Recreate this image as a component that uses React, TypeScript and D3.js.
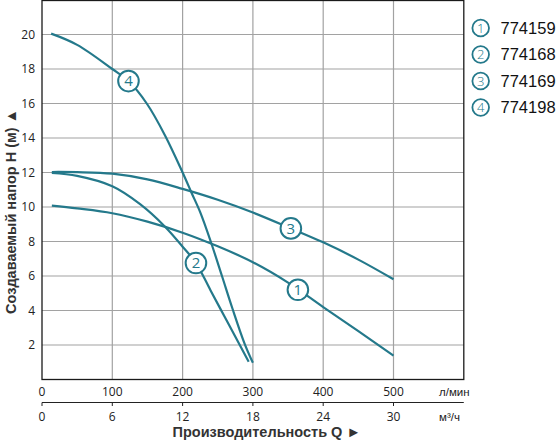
import React from "react";
import * as d3 from "d3";

// ---- data ----
const seriesNames = ["774159", "774168", "774169", "774198"];
const series1Q = [14, 50, 100, 150, 200, 250, 300, 350, 400, 450, 500];
const series1H = [10.08, 9.92, 9.64, 9.15, 8.51, 7.72, 6.8, 5.62, 4.2, 2.8, 1.38];
const series2Q = [14, 50, 100, 140, 175, 200, 219, 240, 260, 280, 294];
const series2H = [11.97, 11.8, 11.2, 10.15, 8.86, 7.7, 6.75, 5.15, 3.62, 2.1, 1.03];
const series3Q = [14, 50, 100, 150, 200, 250, 300, 354, 400, 450, 500];
const series3H = [12.03, 12.02, 11.93, 11.6, 11.05, 10.42, 9.68, 8.76, 7.95, 6.95, 5.81];
const series4Q = [13, 50, 100, 123, 149, 175, 200, 213, 225, 240, 256, 271, 288, 300];
const series4H = [20.05, 19.4, 18.0, 17.3, 16.0, 14.15, 12.0, 10.8, 9.7, 8.0, 6.0, 4.1, 2.1, 0.97];
const labelQ = [364, 219, 354, 123];
const labelH = [5.2, 6.75, 8.76, 17.3];
const yTicks = [2, 4, 6, 8, 10, 12, 14, 16, 18, 20];
const xTicksLmin = [0, 100, 200, 300, 400, 500];
const xTicksM3h = [0, 6, 12, 18, 24, 30];

const TEAL = "#24798b";
const GRID = "#a2a2a2";

export default function App() {
  const W = 558, H = 440;
  const left = 42, right = 463.8, top = 0.5, bottom = 379.5;
  const x = d3.scaleLinear().domain([0, 600]).range([left, right]);
  const x2 = d3.scaleLinear().domain([0, 36]).range([left, right]);
  const y = d3.scaleLinear().domain([0, 22]).range([bottom, 0]);

  const all = [
    [series1Q, series1H],
    [series2Q, series2H],
    [series3Q, series3H],
    [series4Q, series4H],
  ];
  const line = d3
    .line<[number, number]>()
    .x((d) => x(d[0]))
    .y((d) => y(d[1]))
    .curve(d3.curveCatmullRom.alpha(0.5));

  const tickFont = "'Open Sans', 'DejaVu Sans', sans-serif";
  const titleFont = "'Liberation Sans', Arial, sans-serif";

  return (
    <svg
      width={W}
      height={H}
      viewBox={`0 0 ${W} ${H}`}
      style={{ position: "absolute", left: 0, top: 0, background: "#fff" }}
    >
      {/* grid */}
      {yTicks.map((t) => (
        <line key={"gy" + t} x1={left} x2={right} y1={y(t)} y2={y(t)} stroke={GRID} strokeWidth={1.2} />
      ))}
      {xTicksLmin.slice(1).map((t) => (
        <line key={"gx" + t} x1={x(t)} x2={x(t)} y1={top} y2={bottom} stroke={GRID} strokeWidth={1.2} />
      ))}
      {/* frame */}
      <rect x={left} y={top} width={right - left} height={bottom - top} fill="none" stroke="#1a1a1a" strokeWidth={1.3} />

      {/* y tick labels */}
      {yTicks.map((t) => (
        <text
          key={"ty" + t}
          x={35}
          y={y(t)}
          dy="0.36em"
          textAnchor="end"
          fontFamily={tickFont}
          fontSize={12}
          fill="#222"
        >
          {t}
        </text>
      ))}

      {/* x tick labels l/min */}
      {xTicksLmin.map((t) => (
        <text key={"tx" + t} x={x(t)} y={396} textAnchor="middle" fontFamily={tickFont} fontSize={12} fill="#222">
          {t}
        </text>
      ))}
      <text x={439} y={396} fontFamily={titleFont} fontSize={11.5} fill="#222">
        л/мин
      </text>

      {/* second axis m3/h */}
      <line x1={left} x2={right} y1={402.5} y2={402.5} stroke="#222" strokeWidth={1} />
      {xTicksM3h.map((t) => (
        <g key={"t2" + t}>
          <line x1={x2(t)} x2={x2(t)} y1={402.5} y2={406} stroke="#222" strokeWidth={1} />
          <text x={x2(t)} y={421} textAnchor="middle" fontFamily={tickFont} fontSize={12} fill="#222">
            {t}
          </text>
        </g>
      ))}
      <text x={439} y={421} fontFamily={titleFont} fontSize={11.5} fill="#222">
        м³/ч
      </text>

      {/* axis titles */}
      <text x={172.5} y={436.5} fontFamily={titleFont} fontSize={14.5} fontWeight="bold" fill="#333">
        Производительность Q ►
      </text>
      <text
        transform={`translate(15.5, 211.5) rotate(-90)`}
        textAnchor="middle"
        fontFamily={titleFont}
        fontSize={14.5}
        fontWeight="bold"
        fill="#333"
      >
        Создаваемый напор H (м) ▲
      </text>

      {/* curves */}
      {all.map(([qs, hs], i) => (
        <path
          key={"c" + i}
          d={line(qs.map((q, j) => [q, hs[j]] as [number, number])) || ""}
          fill="none"
          stroke={TEAL}
          strokeWidth={2.2}
        />
      ))}

      {/* curve labels */}
      {labelQ.map((q, i) => (
        <g key={"lb" + i} transform={`translate(${x(q)}, ${y(labelH[i])})`}>
          <circle r={10.3} fill="#fff" stroke={TEAL} strokeWidth={2} />
          <text dy="0.36em" textAnchor="middle" fontFamily={tickFont} fontSize={15} fill={TEAL}>
            {i + 1}
          </text>
        </g>
      ))}

      {/* legend */}
      {seriesNames.map((n, i) => (
        <g key={"lg" + i} transform={`translate(0, ${28 + i * 26.5})`}>
          <circle cx={480.7} cy={0} r={8.3} fill="#fff" stroke={TEAL} strokeWidth={1.8} />
          <text x={480.7} dy="0.36em" textAnchor="middle" fontFamily={tickFont} fontSize={13} fontWeight={300} fill={TEAL}>
            {i + 1}
          </text>
          <text x={500.5} dy="0.36em" fontFamily={titleFont} fontSize={16.5} fill="#111">
            {n}
          </text>
        </g>
      ))}
    </svg>
  );
}
